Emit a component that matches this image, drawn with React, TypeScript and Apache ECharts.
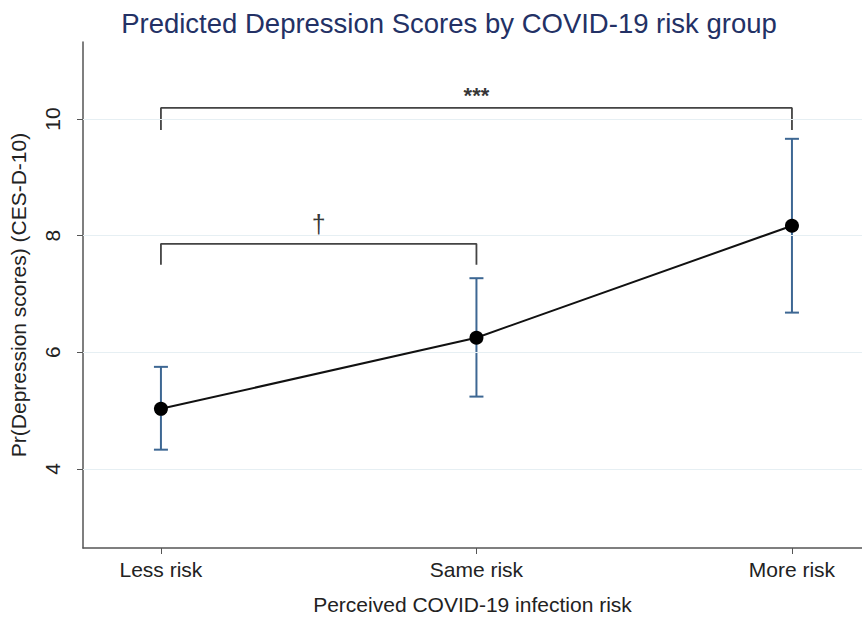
import React, { useEffect, useRef } from "react";
import * as echarts from "echarts";

const categories = ["Less risk", "Same risk", "More risk"];
const predicted = [5.03, 6.25, 8.17];
const ciLower = [4.33, 5.24, 6.68];
const ciUpper = [5.75, 7.27, 9.66];
const yTicks = [4, 6, 8, 10];
// brackets between groups
const bracketA = { from: 0, to: 2, top: 10.19, leg: 9.81, label: "***", labelAt: 10.41 };
const bracketB = { from: 0, to: 1, top: 7.86, leg: 7.5, label: "†", labelAt: 8.2 };

const FONT = "'Liberation Sans', Arial, sans-serif";

export default function App() {
  const ref = useRef<HTMLDivElement>(null);
  useEffect(() => {
    if (!ref.current) return;
    const chart = echarts.init(ref.current, undefined, { renderer: "svg" });
    const idx = categories.map((_, i) => i);
    const bracketSeries = (b: typeof bracketA) => ({
      type: "line",
      data: [
        [b.from, b.leg],
        [b.from, b.top],
        [b.to, b.top],
        [b.to, b.leg],
      ],
      symbol: "none",
      lineStyle: { color: "#444444", width: 1.8 },
      silent: true,
      z: 3,
    });
    const labelSeries = (b: typeof bracketA, size: number, weight: string) => ({
      type: "scatter",
      data: [[(b.from + b.to) / 2, b.labelAt]],
      symbolSize: 0,
      silent: true,
      itemStyle: { color: "#000" },
      label: {
        show: true,
        position: "inside",
        formatter: b.label,
        color: "#000",
        textBorderWidth: 0,
        fontSize: size,
        fontFamily: FONT,
        fontWeight: weight,
      },
    });
    chart.setOption({
      animation: false,
      backgroundColor: "#ffffff",
      title: {
        text: "Predicted Depression Scores by COVID-19 risk group",
        left: 444,
        textAlign: "center",
        top: 4,
        textStyle: {
          color: "#233165",
          fontSize: 27.5,
          fontWeight: "normal",
          fontFamily: FONT,
        },
      },
      grid: { left: 82, right: 0, top: 42, bottom: 72 },
      xAxis: {
        type: "value",
        min: -0.247,
        max: 2.222,
        name: "Perceived COVID-19 infection risk",
        nameLocation: "middle",
        nameGap: 46,
        nameTextStyle: { fontSize: 21, color: "#222", fontFamily: FONT },
        axisLine: { show: true, onZero: false, lineStyle: { color: "#555", width: 1.5 } },
        axisTick: { show: true, customValues: idx, length: 6, lineStyle: { color: "#555" } },
        axisLabel: {
          customValues: idx,
          formatter: (v: number) => categories[Math.round(v)] ?? "",
          fontSize: 21,
          color: "#222",
          margin: 11,
          fontFamily: FONT,
        },
        splitLine: { show: false },
      },
      yAxis: {
        type: "value",
        min: 2.644,
        max: 11.32,
        name: "Pr(Depression scores) (CES-D-10)",
        nameLocation: "middle",
        nameGap: 54,
        nameTextStyle: { fontSize: 21, color: "#222", fontFamily: FONT },
        axisLine: { show: true, onZero: false, lineStyle: { color: "#555", width: 1.5 } },
        axisTick: { show: true, customValues: yTicks, length: 6, lineStyle: { color: "#555" } },
        axisLabel: {
          customValues: yTicks,
          rotate: 90,
          fontSize: 21,
          color: "#222",
          margin: 20,
          fontFamily: FONT,
        },
        splitLine: { show: false },
      },
      series: [
        {
          type: "line",
          data: [],
          silent: true,
          markLine: {
            silent: true,
            symbol: "none",
            label: { show: false },
            lineStyle: { color: "#e6eff3", width: 1, type: "solid" },
            data: yTicks.map((v) => ({ yAxis: v })),
          },
        },
        bracketSeries(bracketA),
        bracketSeries(bracketB),
        labelSeries(bracketA, 22, "bold"),
        labelSeries(bracketB, 25, "normal"),
        {
          type: "custom",
          data: idx.map((i) => [i, ciLower[i], ciUpper[i]]),
          z: 4,
          renderItem: (params: any, api: any) => {
            const x = api.value(0);
            const lo = api.coord([x, api.value(1)]);
            const hi = api.coord([x, api.value(2)]);
            const w = 7;
            const style = { stroke: "#3d6793", lineWidth: 2 };
            return {
              type: "group",
              children: [
                { type: "line", shape: { x1: lo[0], y1: lo[1], x2: hi[0], y2: hi[1] }, style },
                { type: "line", shape: { x1: lo[0] - w, y1: lo[1], x2: lo[0] + w, y2: lo[1] }, style },
                { type: "line", shape: { x1: hi[0] - w, y1: hi[1], x2: hi[0] + w, y2: hi[1] }, style },
              ],
            };
          },
        },
        {
          type: "line",
          data: idx.map((i) => [i, predicted[i]]),
          symbol: "circle",
          symbolSize: 14,
          itemStyle: { color: "#000" },
          lineStyle: { color: "#111", width: 2 },
          z: 6,
        },
      ],
    });
    return () => chart.dispose();
  }, []);
  return (
    <div
      ref={ref}
      style={{ position: "fixed", left: 0, top: 0, width: 862, height: 620 }}
    />
  );
}
